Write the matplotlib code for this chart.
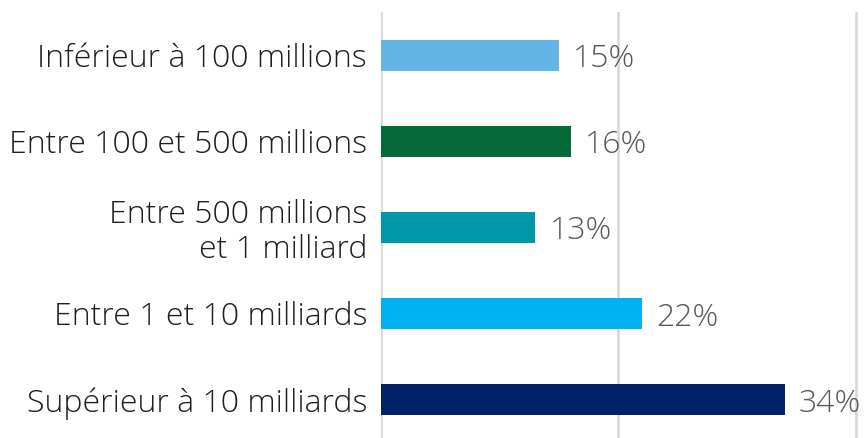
import matplotlib.pyplot as plt
import numpy as np

plt.rcParams['font.family'] = ['Open Sans', 'DejaVu Sans']

categories = ['Inférieur à 100 millions', 'Entre 100 et 500 millions',
              'Entre 500 millions\net 1 milliard', 'Entre 1 et 10 milliards',
              'Supérieur à 10 milliards']
values = [15, 16, 13, 22, 34]
colors = ['#62B5E5', '#046A38', '#0097A9', '#00B0F0', '#012169']
gridlines = [0, 20, 40]

fig = plt.figure(figsize=(8.65, 4.38), dpi=100)
ax = fig.add_axes([381 / 865, 0, (865 - 381) / 865, 426 / 438])

y = np.arange(len(categories))
for g in gridlines:
    ax.axvline(g, color='#d6d6d6', linewidth=1.8, zorder=0)
ax.barh(y, values, height=0.36, color=colors, zorder=3)

for yi, v in zip(y, values):
    ax.text(v + 1.2, yi + 0.05, f'{v}%', va='center', ha='left', fontsize=23,
            color='#595959', fontweight='light', zorder=4)

ax.set_xlim(0, 40.76)
ax.set_ylim(4.45, -0.5)
ax.set_xticks([])
ax.tick_params(axis='both', length=0)
ax.set_yticks(y)
ax.set_yticklabels(categories, fontsize=23, color='#1f1f1f', fontweight='light',
                   ha='right', multialignment='right', linespacing=1.1)
ax.tick_params(axis='y', pad=10)
for s in ax.spines.values():
    s.set_visible(False)

fig.savefig('out.png', dpi=100)
